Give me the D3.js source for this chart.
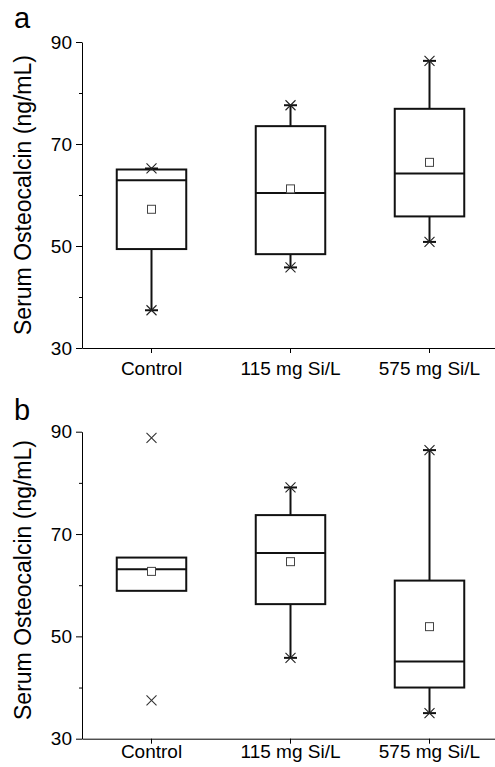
<!DOCTYPE html>
<html>
<head>
<meta charset="utf-8">
<script src="https://cdn.jsdelivr.net/npm/d3@7"></script>
<style>
  body { margin: 0; background: #fff; }
  svg { display: block; font-family: "Liberation Sans", Arial, sans-serif; }
</style>
</head>
<body>
<div id="chart"></div>
<script>
// categories
var groups = ["Control", "115 mg Si/L", "575 mg Si/L"];

// panel a box statistics
var aMin  = [37.4, 45.8, 50.8];
var aQ1   = [49.4, 48.4, 55.8];
var aMed  = [62.9, 60.4, 64.2];
var aQ3   = [65.0, 73.5, 76.9];
var aMax  = [65.2, 77.6, 86.3];
var aMean = [57.2, 61.2, 66.4];
var aOut  = [[], [], []];

// panel b box statistics
var bMin  = [58.9, 45.8, 35.0];
var bQ1   = [58.9, 56.3, 40.0];
var bMed  = [63.1, 66.3, 45.1];
var bQ3   = [65.4, 73.7, 60.9];
var bMax  = [65.4, 79.1, 86.4];
var bMean = [62.7, 64.6, 51.9];
var bOut  = [[88.8, 37.5], [], []];

// tick labels
var majorTicks = [30, 50, 70, 90];
var minorTicks = [40, 60, 80];

var width = 495, height = 767;

var svg = d3.select("#chart").append("svg")
    .attr("width", width)
    .attr("height", height);

// x scale shared by both panels
var x = d3.scaleBand()
    .domain(groups)
    .range([82, 499])
    .paddingInner(0.5)
    .paddingOuter(0.25);

function drawPanel(letter, top, bottom, letterY, titleY, labelPad, mins, q1s, meds, q3s, maxs, means, outs) {
    var y = d3.scaleLinear().domain([30, 90]).range([bottom, top]);
    var g = svg.append("g");

    // panel letter
    svg.append("text")
        .attr("x", 14)
        .attr("y", letterY)
        .style("font-size", "29px")
        .text(letter);

    // y title
    svg.append("text")
        .attr("transform", "translate(31," + titleY + ")rotate(-90)")
        .attr("text-anchor", "middle")
        .style("font-size", "23px")
        .text("Serum Osteocalcin (ng/mL)");

    // y axis (major)
    var yAxis = g.append("g")
        .attr("transform", "translate(82,0)")
        .call(d3.axisLeft(y).tickValues(majorTicks).tickSize(6).tickPadding(4).tickSizeOuter(0));
    yAxis.selectAll("text").style("font-size", "19px").attr("fill", "#000");
    yAxis.selectAll("line, path").attr("stroke", "#000").attr("stroke-width", 1);

    // minor ticks
    var yMinor = g.append("g")
        .attr("transform", "translate(82,0)")
        .call(d3.axisLeft(y).tickValues(minorTicks).tickSize(3).tickFormat(""));
    yMinor.select(".domain").remove();
    yMinor.selectAll("line").attr("stroke", "#000");

    // x axis
    var xAxis = g.append("g")
        .attr("transform", "translate(0," + bottom + ")")
        .call(d3.axisBottom(x).tickSize(5).tickPadding(labelPad).tickSizeOuter(0));
    xAxis.selectAll("text").style("font-size", "19px").attr("fill", "#000");
    xAxis.selectAll("line, path").attr("stroke", "#000").attr("stroke-width", 1);

    var bw = x.bandwidth();

    groups.forEach(function(name, i) {
        var cx = x(name) + bw / 2;

        // whiskers
        g.append("line")
            .attr("x1", cx).attr("x2", cx)
            .attr("y1", y(q3s[i])).attr("y2", y(maxs[i]))
            .attr("stroke", "#111").attr("stroke-width", 2);
        g.append("line")
            .attr("x1", cx).attr("x2", cx)
            .attr("y1", y(q1s[i])).attr("y2", y(mins[i]))
            .attr("stroke", "#111").attr("stroke-width", 2);

        // box
        g.append("rect")
            .attr("x", x(name))
            .attr("y", y(q3s[i]))
            .attr("width", bw)
            .attr("height", y(q1s[i]) - y(q3s[i]))
            .attr("fill", "none")
            .attr("stroke", "#111")
            .attr("stroke-width", 2);

        // median
        g.append("line")
            .attr("x1", x(name)).attr("x2", x(name) + bw)
            .attr("y1", y(meds[i])).attr("y2", y(meds[i]))
            .attr("stroke", "#111").attr("stroke-width", 2);

        // whisker end stars
        [mins[i], maxs[i]].forEach(function(v) {
            if (v === q1s[i] || v === q3s[i]) return;
            var yy = y(v);
            g.append("line")
                .attr("x1", cx - 6.5).attr("x2", cx + 6.5)
                .attr("y1", yy).attr("y2", yy)
                .attr("stroke", "#111").attr("stroke-width", 2);
            g.append("path")
                .attr("d", "M" + (cx - 5) + "," + (yy - 5) + "L" + (cx + 5) + "," + (yy + 5) +
                           "M" + (cx - 5) + "," + (yy + 5) + "L" + (cx + 5) + "," + (yy - 5))
                .attr("stroke", "#222").attr("stroke-width", 1.1).attr("fill", "none");
        });

        // outliers
        outs[i].forEach(function(v) {
            var yy = y(v);
            g.append("path")
                .attr("d", "M" + (cx - 5) + "," + (yy - 5) + "L" + (cx + 5) + "," + (yy + 5) +
                           "M" + (cx - 5) + "," + (yy + 5) + "L" + (cx + 5) + "," + (yy - 5))
                .attr("stroke", "#333").attr("stroke-width", 1.1).attr("fill", "none");
        });

        // mean square
        g.append("rect")
            .attr("x", cx - 4).attr("y", y(means[i]) - 4)
            .attr("width", 8).attr("height", 8)
            .attr("fill", "#fff")
            .attr("stroke", "#444")
            .attr("stroke-width", 1);
    });
}

drawPanel("a", 42, 348, 28, 195, 9, aMin, aQ1, aMed, aQ3, aMax, aMean, aOut);
drawPanel("b", 431.7, 738.7, 420, 580, 1, bMin, bQ1, bMed, bQ3, bMax, bMean, bOut);
</script>
</body>
</html>
